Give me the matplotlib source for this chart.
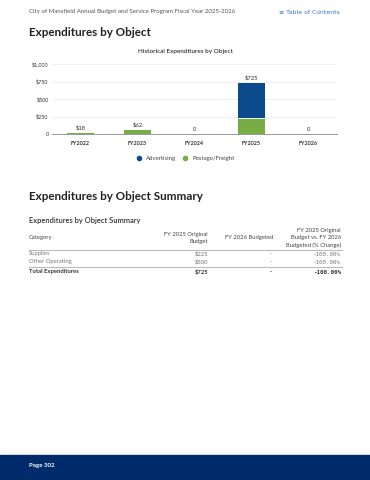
import matplotlib
matplotlib.use("Agg")
import matplotlib.pyplot as plt
import numpy as np
from matplotlib.lines import Line2D

plt.rcParams['font.family'] = ['Lato', 'DejaVu Sans']

# chart data
years = ['FY2022', 'FY2023', 'FY2024', 'FY2025', 'FY2026']
postage = [18, 62, 0, 225, 0]
advertising = [0, 0, 0, 500, 0]
totals = ['$18', '$62', '0', '$725', '0']
yticks = [0, 250, 500, 750, 1000]
ytick_labels = ['0', '$250', '$500', '$750', '$1,000']

# table data
tbl_categories = ['Supplies', 'Other Operating']
tbl_fy25 = ['$225', '$500']
tbl_fy26 = ['-', '-']
tbl_change = ['-100.00%', '-100.00%']
tbl_total = ['Total Expenditures', '$725', '-', '-100.00%']

BLUE = '#0b4a8b'
GREEN = '#78ad45'
NAVY = '#002b6b'
W, H = 370, 480

fig = plt.figure(figsize=(3.7, 4.8), dpi=100)

def fx(px):
    return px / W

def fy(py):
    return 1 - py / H

# header
fig.text(fx(29), fy(11), 'City of Mansfield Annual Budget and Service Program Fiscal Year 2025-2026',
         fontsize=4.4, color='#555555', va='center')
fig.text(fx(340), fy(12), '\u2261 Table of Contents', fontsize=4.4, color='#3a78c2',
         va='center', ha='right', family=['DejaVu Sans'])
fig.text(fx(29), fy(32), 'Expenditures by Object', fontsize=8.4, weight='bold',
         color='#222222', va='center')
fig.text(fx(185), fy(52), 'Historical Expenditures by Object', fontsize=4.6,
         color='#333333', va='center', ha='center', weight='semibold')

# bar chart
ax = fig.add_axes([fx(52), fy(134), fx(285), (134 - 64) / H])
x = np.arange(len(years))
bw = 0.46
ax.bar(x, postage, bw, color=GREEN, label='Postage/Freight', zorder=3)
ax.bar(x, advertising, bw, bottom=postage, color=BLUE, label='Advertising', zorder=3,
       edgecolor='none')
# thin white separator between stacks
for i in range(len(x)):
    if advertising[i] > 0 and postage[i] > 0:
        ax.plot([x[i] - bw / 2, x[i] + bw / 2], [postage[i], postage[i]], color='white',
                lw=0.6, zorder=4)
for i in range(len(x)):
    top = postage[i] + advertising[i]
    ax.text(x[i], top + 35, totals[i], ha='center', va='bottom', fontsize=4.2, color='#333333')

ax.set_xlim(-0.5, 4.5)
ax.set_ylim(0, 1000)
ax.set_yticks(yticks)
ax.set_yticklabels(ytick_labels)
ax.set_xticks(x)
ax.set_xticklabels(years, weight='bold')
ax.tick_params(axis='both', length=0, labelsize=3.9, colors='#333333')
ax.tick_params(axis='y', pad=2.5)
ax.tick_params(axis='x', pad=5)
ax.grid(axis='y', color='#ececec', lw=0.5, zorder=0)
for s in ['top', 'right', 'left']:
    ax.spines[s].set_visible(False)
ax.spines['bottom'].set_color('#888888')
ax.spines['bottom'].set_linewidth(0.6)

# legend
handles = [Line2D([], [], marker='o', ls='', color=BLUE, markersize=3),
           Line2D([], [], marker='o', ls='', color=GREEN, markersize=3)]
fig.legend(handles, ['Advertising', 'Postage/Freight'], loc='center',
           bbox_to_anchor=(fx(184), fy(158)), ncol=2, frameon=False, fontsize=4.3,
           handletextpad=0.2, columnspacing=0.5, labelcolor='#444444')

# summary section
fig.text(fx(29), fy(196), 'Expenditures by Object Summary', fontsize=8.4, weight='bold',
         color='#222222', va='center')
fig.text(fx(29), fy(221), 'Expenditures by Object Summary', fontsize=5.4, weight='semibold',
         color='#333333', va='center')

hdr_kw = dict(fontsize=4.2, color='#444444', va='center', ha='right', linespacing=1.5)
fig.text(fx(29), fy(238), 'Category', fontsize=4.2, color='#444444', va='center')
fig.text(fx(208), fy(237.5), 'FY 2025 Original\nBudget', **hdr_kw)
fig.text(fx(273), fy(238), 'FY 2026 Budgeted', **hdr_kw)
fig.text(fx(341), fy(238), 'FY 2025 Original\nBudget vs. FY 2026\nBudgeted (% Change)', **hdr_kw)

fig.add_artist(Line2D([fx(29), fx(342)], [fy(250), fy(250)], color='#bbbbbb', lw=0.8))
row_y = [254, 262]
for i, cat in enumerate(tbl_categories):
    y = fy(row_y[i])
    fig.text(fx(29), y, cat, fontsize=4.2, color='#777777', va='center')
    fig.text(fx(208), y, tbl_fy25[i], fontsize=4.2, color='#777777', va='center', ha='right')
    fig.text(fx(272), y, tbl_fy26[i], fontsize=4.2, color='#777777', va='center', ha='right')
    fig.text(fx(341), y, tbl_change[i], fontsize=4.2, color='#777777', va='center', ha='right',
             family=['DejaVu Sans Mono'])
fig.add_artist(Line2D([fx(29), fx(342)], [fy(267), fy(267)], color='#bbbbbb', lw=0.8))
ty = fy(272)
fig.text(fx(29), ty, tbl_total[0], fontsize=4.2, color='#333333', va='center', weight='bold')
fig.text(fx(208), ty, tbl_total[1], fontsize=4.2, color='#333333', va='center', ha='right', weight='bold')
fig.text(fx(272), ty, tbl_total[2], fontsize=4.2, color='#333333', va='center', ha='right', weight='bold')
fig.text(fx(341), ty, tbl_total[3], fontsize=4.2, color='#333333', va='center', ha='right',
         weight='bold', family=['DejaVu Sans Mono'])

# footer band
fig.add_artist(plt.Rectangle((0, 0), 1, 1 - 455 / H, transform=fig.transFigure,
                             color=NAVY, zorder=0))
fig.text(fx(29), fy(466), 'Page 302', fontsize=4.4, color='white', weight='bold', va='center')

fig.savefig('out.png', dpi=100)
